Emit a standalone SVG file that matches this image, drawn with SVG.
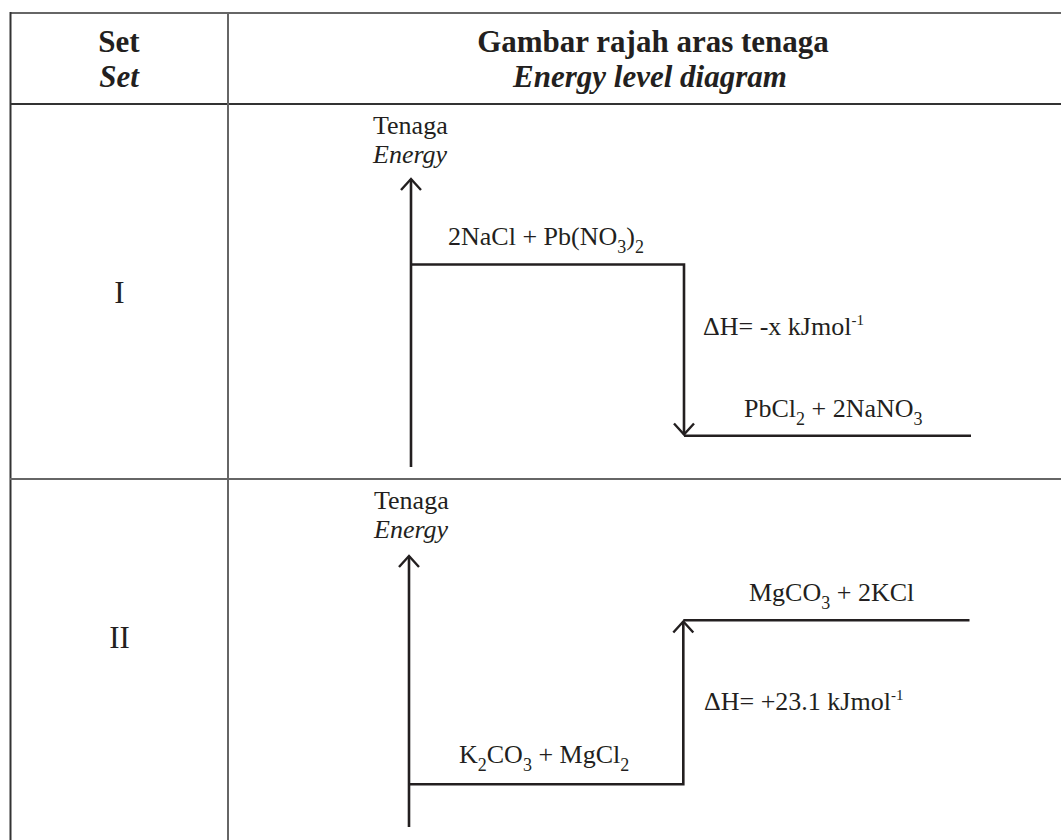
<svg xmlns="http://www.w3.org/2000/svg" width="1061" height="840" viewBox="0 0 1061 840">
<style>
text{font-family:"Liberation Serif","Times New Roman",serif;fill:#231f20}
.hd{font-size:31px;font-weight:bold;text-anchor:middle}
.it{font-style:italic}
.t{font-size:26px}
.rn{font-size:31px;text-anchor:middle}
.sub{font-size:18px}
.sup{font-size:15px}
.ln{stroke:#231f20;stroke-width:2.6;fill:none}
.gr{stroke:#666;stroke-width:2;fill:none}
.dk{stroke:#333;stroke-width:2;fill:none}
</style>
<defs>
<marker id="chev" viewBox="-13 -13 26 26" markerWidth="26" markerHeight="26" refX="0" refY="0" orient="auto" markerUnits="userSpaceOnUse">
<path d="M-11,-10 L0,0 L-11,10" fill="none" stroke="#231f20" stroke-width="2.4"/>
</marker>
</defs>
<rect width="1061" height="840" fill="#fff"/>
<g id="table">
<line class="gr" x1="10" y1="13" x2="1061" y2="13"/>
<line class="dk" x1="10.5" y1="12" x2="10.5" y2="840"/>
<line class="dk" x1="10" y1="104" x2="1061" y2="104"/>
<line class="gr" x1="228" y1="13" x2="228" y2="840"/>
<line class="gr" x1="10" y1="479" x2="1061" y2="479"/>
</g>
<g id="header">
<text class="hd" x="119" y="52">Set</text>
<text class="hd it" x="119" y="87">Set</text>
<text class="hd" x="653" y="52">Gambar rajah aras tenaga</text>
<text class="hd it" x="650" y="87">Energy level diagram</text>
</g>
<g id="row-labels">
<text class="rn" x="119.5" y="302.5">I</text>
<text class="rn" x="119.5" y="648">II</text>
</g>
<g id="connectors">
<line class="ln" x1="411" y1="467" x2="411" y2="179" marker-end="url(#chev)"/>
<polyline class="ln" points="411,264.5 684,264.5 684,434.5" marker-end="url(#chev)"/>
<line class="ln" x1="684" y1="435.7" x2="971" y2="435.7"/>
<line class="ln" x1="409" y1="827" x2="409" y2="556" marker-end="url(#chev)"/>
<polyline class="ln" points="409,784.3 683.3,784.3 683.3,621.5" marker-end="url(#chev)"/>
<line class="ln" x1="683.3" y1="620.3" x2="969.5" y2="620.3"/>
</g>
<g id="axis-label-1">
<text class="t" x="373" y="134">Tenaga</text>
<text class="t it" x="373" y="163">Energy</text>
</g>
<g id="reactants-1">
<text class="t" x="448" y="245">2NaCl + Pb(NO<tspan class="sub" dy="8">3</tspan><tspan dy="-8">)</tspan><tspan class="sub" dy="8">2</tspan></text>
</g>
<g id="dh-1">
<text class="t" x="703" y="335">ΔH= -x kJmol<tspan class="sup" dy="-10">-1</tspan></text>
</g>
<g id="products-1">
<text class="t" x="744" y="416.7">PbCl<tspan class="sub" dy="8">2</tspan><tspan dy="-8"> + 2NaNO</tspan><tspan class="sub" dy="8">3</tspan></text>
</g>
<g id="axis-label-2">
<text class="t" x="374" y="508.5">Tenaga</text>
<text class="t it" x="374" y="538">Energy</text>
</g>
<g id="products-2">
<text class="t" x="749" y="600.7">MgCO<tspan class="sub" dy="8">3</tspan><tspan dy="-8"> + 2KCl</tspan></text>
</g>
<g id="dh-2">
<text class="t" x="704" y="710">ΔH= +23.1 kJmol<tspan class="sup" dy="-10">-1</tspan></text>
</g>
<g id="reactants-2">
<text class="t" x="459" y="763">K<tspan class="sub" dy="8">2</tspan><tspan dy="-8">CO</tspan><tspan class="sub" dy="8">3</tspan><tspan dy="-8"> + MgCl</tspan><tspan class="sub" dy="8">2</tspan></text>
</g>
</svg>
